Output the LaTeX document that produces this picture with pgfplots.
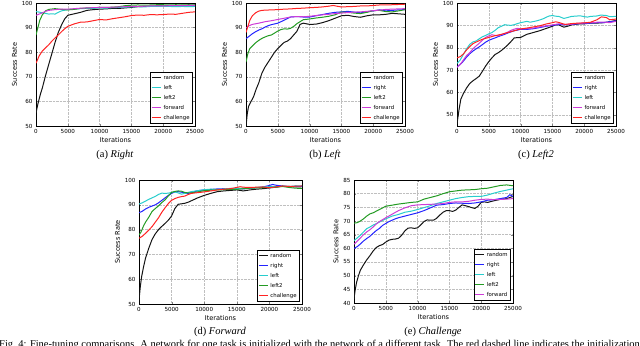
\documentclass[border=0pt]{standalone}
\usepackage{fontspec}
\setmainfont{Liberation Serif}
\newfontfamily\dv{DejaVu Sans}
\usepackage{pgfplots}
\pgfplotsset{compat=1.18}

\definecolor{mk}{RGB}{20,20,20}
\definecolor{mb}{RGB}{35,35,255}
\definecolor{mc}{RGB}{40,205,205}
\definecolor{mg}{RGB}{35,155,35}
\definecolor{mm}{RGB}{205,60,215}
\definecolor{mr}{RGB}{255,35,35}

\pgfplotsset{
  sub/.style={
    scale only axis, width=159bp, height=123bp,
    xmin=0, xmax=25000,
    xtick={0,5000,10000,15000,20000,25000},
    scaled x ticks=false,
    /pgf/number format/set thousands separator={},
    /pgf/number format/assume math mode=true,
    tick label style={font=\dv\fontsize{5.6}{6}\selectfont},
    label style={font=\dv\fontsize{6.6}{7}\selectfont},
    xlabel={Iterations}, ylabel={Success Rate},
    xlabel style={yshift=3bp}, ylabel style={yshift=-2bp},
    tick align=inside, major tick length=2bp,
    axis line style={line width=0.5bp},
    grid=major,
    grid style={densely dotted, gray!50, line width=0.45bp},
    every axis plot/.append style={line width=1bp, no marks},
    legend cell align=left,
    legend style={font=\dv\fontsize{5.4}{6}\selectfont, draw=black,
      at={(0.985,0.02)}, anchor=south east, inner sep=0.8pt, row sep=0.4bp},
  },
  k/.style={color=mk, legend image code/.code={\draw[mk, line width=1.2bp] (0bp,0bp) -- (9bp,0bp);}},
  b/.style={color=mb, legend image code/.code={\draw[mb, line width=1.2bp] (0bp,0bp) -- (9bp,0bp);}},
  c/.style={color=mc, legend image code/.code={\draw[mc, line width=1.2bp] (0bp,0bp) -- (9bp,0bp);}},
  g/.style={color=mg, legend image code/.code={\draw[mg, line width=1.2bp] (0bp,0bp) -- (9bp,0bp);}},
  m/.style={color=mm, legend image code/.code={\draw[mm, line width=1.2bp] (0bp,0bp) -- (9bp,0bp);}},
  r/.style={color=mr, legend image code/.code={\draw[mr, line width=1.2bp] (0bp,0bp) -- (9bp,0bp);}},
}

\begin{document}
\begin{tikzpicture}[x=1bp,y=1bp]
\useasboundingbox (0,0) rectangle (640,345);

% (a) Right
\begin{axis}[sub, at={(36bp,219bp)}, anchor=south west, ymin=50, ymax=100,
  ytick={50,60,70,80,90,100}]
\addplot[k] coordinates {(0,55.3)(300,59)(700,63)(1000,65.5)(1500,70.5)(2000,75)(2500,79.5)(3000,84)(3500,88)(4000,91)(4500,93.5)(5000,95)(6000,95.6)(7000,96.2)(8000,97)(9000,97.3)(10000,97.5)(11000,97.6)(12000,97.8)(13000,97.8)(14000,98)(15000,98.2)(16000,98.5)(17000,98.6)(18000,98.7)(19000,98.8)(20000,98.8)(21000,98.9)(22000,98.9)(23000,99)(24000,99)(25000,99.1)};
\addlegendentry{random}
\addplot[c] coordinates {(0,96.5)(500,96.3)(1000,96)(1500,95.8)(2000,95.5)(2500,95.6)(3000,95.5)(3500,96.2)(4000,96.8)(5000,97.3)(6000,97.5)(7000,97.7)(8000,97.8)(9000,97.8)(10000,98)(11000,97.9)(12000,98.1)(13000,98.2)(14000,98.3)(15000,98.4)(16000,98.5)(17000,98.4)(18000,98.6)(19000,98.6)(20000,98.7)(21000,98.6)(22000,98.5)(23000,98.6)(24000,98.5)(25000,98.6)};
\addlegendentry{left}
\addplot[g] coordinates {(0,87)(300,90)(600,93)(1000,95.2)(1500,96.8)(2000,97.4)(3000,97.7)(4000,97.4)(5000,97.2)(6000,97.4)(7000,97.8)(8000,98)(9000,98.1)(10000,98.2)(11000,98.2)(12000,98.3)(13000,98.5)(14000,98.9)(15000,99.1)(16000,99.2)(17000,99.1)(18000,99.2)(19000,99.3)(20000,99.3)(21000,99.2)(22000,99.3)(23000,99.2)(24000,99.3)(25000,99.2)};
\addlegendentry{left2}
\addplot[m] coordinates {(0,95)(500,95.5)(1000,96)(1500,96.6)(2000,97)(3000,97.3)(4000,97.5)(5000,97.5)(6000,97.7)(7000,97.9)(8000,98)(9000,98.1)(10000,98.2)(11000,98.2)(12000,98.3)(13000,98.4)(14000,98.5)(15000,98.6)(16000,98.6)(17000,98.7)(18000,98.8)(19000,98.8)(20000,98.8)(21000,98.9)(22000,98.9)(23000,98.9)(24000,99)(25000,99)};
\addlegendentry{forward}
\addplot[r] coordinates {(0,75.5)(500,78.5)(1000,80.5)(1500,81.8)(2000,83)(2500,84.5)(3000,85.8)(3500,87)(4000,88.3)(4500,89.5)(5000,90.5)(6000,91.5)(7000,92.2)(8000,92.3)(9000,92.8)(10000,93.3)(11000,93.1)(12000,93.6)(13000,94)(14000,94.4)(15000,94.9)(16000,95.1)(17000,95)(18000,95.3)(19000,95.2)(20000,95.3)(21000,95.5)(22000,95.4)(23000,95.8)(24000,96.2)(25000,96.4)};
\addlegendentry{challenge}
\end{axis}

% (b) Left
\begin{axis}[sub, at={(246bp,219bp)}, anchor=south west, ymin=50, ymax=100,
  ytick={50,60,70,80,90,100}]
\addplot[k] coordinates {(0,50)(200,55)(400,58)(800,60)(1200,62)(1600,65)(2000,67.5)(2500,71.5)(3000,74)(3500,76)(4000,78)(4500,80)(5000,81.5)(5500,82.8)(6000,84)(6500,84.5)(7000,85.5)(7500,87)(8000,88.5)(8500,91.3)(9000,91.8)(10000,91.3)(11000,91.4)(12000,92)(13000,92.8)(14000,93.8)(15000,94.8)(16000,95)(17000,94.5)(18000,94.2)(19000,94.8)(20000,95.2)(21000,95.2)(22000,95.4)(23000,95.8)(24000,95.6)(25000,95.4)};
\addlegendentry{random}
\addplot[b] coordinates {(0,85.5)(500,86.5)(1000,87.5)(1500,88.3)(2000,89)(2500,89.5)(3000,90.2)(3500,90.8)(4000,91.2)(4500,91.5)(5000,91.8)(6000,93)(7000,94.3)(8000,94.5)(9000,94.3)(10000,94.3)(11000,94.8)(12000,95.3)(13000,95.8)(14000,96.2)(15000,96.4)(16000,96.6)(17000,96.3)(18000,96)(19000,96.4)(20000,96.8)(21000,97.2)(22000,96.8)(23000,97)(24000,97.2)(25000,97.3)};
\addlegendentry{right}
\addplot[g] coordinates {(0,76)(300,79.5)(600,81.5)(1000,82.5)(1500,83.8)(2000,84.8)(2500,85.6)(3000,86.2)(3500,86.7)(4000,87)(4500,87.8)(5000,88.6)(5500,89.2)(6000,89.5)(6500,89.4)(7000,89.7)(7500,90.5)(8000,91.6)(8500,92.4)(9000,93.2)(10000,93.5)(11000,93.9)(12000,94.2)(13000,94.6)(14000,95.2)(15000,96.3)(16000,96.2)(17000,95.9)(18000,95.7)(19000,96.2)(20000,96.9)(21000,97)(22000,96.5)(23000,96.4)(24000,96.8)(25000,97.3)};
\addlegendentry{left2}
\addplot[m] coordinates {(0,89.8)(500,90.8)(1000,91.3)(2000,91.8)(3000,92.4)(4000,92.8)(5000,93.3)(6000,93.8)(7000,94.3)(8000,94.5)(9000,94.4)(10000,94.6)(11000,94.9)(12000,95.2)(13000,95.4)(14000,95.7)(15000,95.9)(16000,96.1)(17000,96.3)(18000,96.4)(19000,96.6)(20000,96.9)(21000,97.1)(22000,97.4)(23000,97.5)(24000,97.6)(25000,97.7)};
\addlegendentry{forward}
\addplot[r] coordinates {(0,88)(300,90.5)(600,93)(1000,94.8)(1500,96)(2000,96.7)(2500,97)(3000,97.1)(4000,97.2)(5000,97.3)(6000,97.5)(7000,97.6)(8000,97.8)(9000,97.9)(10000,98.1)(11000,98.2)(12000,98.4)(13000,98.7)(13700,99)(14500,98.6)(15000,98.4)(16000,98.5)(17000,98.6)(18000,98.8)(19000,98.8)(20000,99)(21000,99.2)(22000,99.2)(23000,99.3)(24000,99.4)(25000,99.5)};
\addlegendentry{challenge}
\end{axis}

% (c) Left2
\begin{axis}[sub, at={(457bp,219bp)}, anchor=south west, ymin=45, ymax=100,
  ytick={50,60,70,80,90,100}]
\addplot[k] coordinates {(0,46)(300,52)(600,57)(1000,59.5)(1500,62)(2000,64)(2500,65.2)(3000,66.2)(3500,67.3)(4000,69.5)(4500,71.8)(5000,73.8)(5500,75.5)(6000,77)(6500,77.8)(7000,78.8)(7500,80)(8000,81.3)(8500,82.8)(9000,84.4)(10000,84.6)(10500,85.3)(11000,86)(12000,86.8)(13000,87.6)(14000,88.6)(15000,89.6)(15500,90.3)(16000,90.2)(16800,89.2)(17500,89.7)(18000,90.2)(19000,90.6)(20000,90.7)(21000,91)(22000,91)(23000,91.2)(24000,91.6)(25000,92.2)};
\addlegendentry{random}
\addplot[b] coordinates {(0,71.5)(500,72.5)(1000,74)(1500,75.8)(2000,77.3)(2500,78.5)(3000,79.5)(3500,80.4)(4000,81.4)(4500,82.5)(5000,83.3)(5500,83.9)(6000,84.4)(6500,85)(7000,85.5)(7500,86)(8000,86.6)(9000,87.6)(10000,88.2)(11000,88.2)(12000,88.5)(13000,89)(14000,89.6)(15000,90)(16000,90.4)(17000,90.2)(18000,90.4)(19000,90.7)(20000,90.8)(21000,91)(22000,91.2)(23000,91.2)(24000,91.6)(25000,92)};
\addlegendentry{right}
\addplot[c] coordinates {(0,73)(500,74.5)(1000,77)(1500,79.5)(2000,81.5)(2500,82.6)(3000,83)(3500,84)(4000,84.9)(4500,85.5)(5000,86.2)(5500,86.8)(6000,87.8)(6500,89)(7000,89.6)(7500,90.3)(8000,90.1)(8500,90)(9000,90.3)(9500,90.8)(10000,91.2)(10500,91.5)(11000,91.8)(11500,91.4)(12000,91.7)(12500,92)(13000,92.4)(13500,92.9)(14000,93.6)(14500,94.2)(15000,94.4)(15500,94.1)(16000,94)(16800,93.1)(17500,93.6)(18000,94)(19000,94.2)(19500,94.2)(20000,93.9)(20500,93.7)(21000,94)(22000,94.2)(22600,94.6)(23500,94.4)(24000,93.9)(25000,94)};
\addlegendentry{left}
\addplot[m] coordinates {(0,71.2)(500,72.5)(1000,74.5)(1500,76.5)(2000,77.8)(2500,79.5)(3000,80.8)(3500,82)(4000,83.4)(4500,84.6)(5000,85.3)(5500,85.8)(6000,85.5)(6500,85.3)(7000,85.9)(7500,86.4)(8000,87)(8500,87.8)(9000,88.3)(9500,88.7)(10000,88.4)(11000,88.5)(12000,88.8)(13000,89.3)(14000,89.8)(15000,90.2)(16000,90.7)(17000,90.4)(18000,90.5)(19000,90.9)(20000,91.1)(21000,91.2)(22000,91.4)(23000,91.5)(24000,91.2)(25000,91.8)};
\addlegendentry{forward}
\addplot[r] coordinates {(0,75.5)(500,76)(1000,77.2)(1500,79)(2000,80.5)(2500,81.8)(3000,82.5)(3500,83.2)(4000,83.8)(4500,84.2)(5000,84.6)(5500,85)(6000,85.4)(7000,86)(8000,86.8)(9000,87.6)(10000,88.4)(11000,88.8)(12000,89.3)(13000,89.8)(14000,90.6)(15000,91.2)(15500,91.6)(16000,91.3)(17000,90.4)(18000,90.8)(19000,91)(20000,91.1)(21000,91.4)(22000,92.5)(22700,93.8)(23500,93.5)(24000,92.5)(25000,92.8)};
\addlegendentry{challenge}
\end{axis}

% (d) Forward
\begin{axis}[sub, at={(139bp,41bp)}, anchor=south west, ymin=50, ymax=100,
  ytick={50,60,70,80,90,100}, width=163bp, height=124bp]
\addplot[k] coordinates {(0,51.5)(200,57)(400,61)(700,65)(1000,68.5)(1500,72.5)(2000,76)(2500,78.3)(3000,80)(3500,81.3)(4000,82.5)(4500,83.8)(5000,85.5)(5500,88.5)(6000,90.2)(6500,90.4)(7000,90.6)(7500,91)(8000,91.6)(9000,92.8)(10000,93.8)(11000,94.6)(12000,95.3)(13000,95.6)(14000,95.8)(15000,96)(16000,95.6)(17000,96)(18000,96.3)(19000,96.5)(20000,96.8)(21000,97.1)(22000,97.5)(23000,97.4)(24000,97.2)(25000,97.3)};
\addlegendentry{random}
\addplot[b] coordinates {(0,86.8)(500,87.4)(1000,88.3)(1500,89)(2000,89.5)(2500,90)(3000,90.8)(3500,91.8)(4000,92.8)(4500,93.8)(5000,94.6)(5500,95.2)(6000,95.3)(6500,95.1)(7000,94.8)(7500,94.6)(8000,94.8)(9000,95.7)(10000,96)(11000,96.2)(12000,96.4)(13000,96.5)(14000,96.3)(15000,96.6)(16000,96.4)(17000,96.7)(18000,96.9)(19000,97.2)(20000,97.8)(20500,98.2)(21000,97.9)(22000,97.6)(23000,97.3)(24000,97.5)(25000,97.4)};
\addlegendentry{right}
\addplot[c] coordinates {(0,90.3)(500,90.8)(1000,91.5)(1500,92.2)(2000,92.8)(2500,93.4)(3000,94.2)(3500,94.7)(4000,94.6)(4500,94.7)(5000,95)(5500,95.2)(6000,94.8)(6500,94.3)(7000,94.6)(7500,95)(8000,95.3)(9000,95.7)(10000,96.1)(11000,96.3)(12000,96.2)(13000,96.4)(14000,96.6)(15000,96.6)(16000,96.7)(17000,96.9)(18000,97)(19000,97.2)(20000,97.3)(21000,97.3)(22000,97.5)(23000,97.4)(24000,97.6)(25000,97.6)};
\addlegendentry{left}
\addplot[g] coordinates {(0,77.8)(300,79)(700,81.5)(1000,83)(1500,85)(2000,87.3)(2500,88.5)(3000,89.6)(3500,90.9)(4000,92)(4500,93.6)(5000,95)(5500,95.4)(6000,95.6)(6500,95.5)(7000,95)(7500,94.8)(8000,94.8)(9000,95.2)(10000,95.7)(11000,95.9)(12000,96)(13000,96.1)(14000,96.2)(15000,96.2)(16000,96.5)(17000,96.7)(18000,96.8)(19000,96.9)(20000,97)(21000,97.1)(22000,97.4)(23000,97)(24000,96.7)(25000,96.6)};
\addlegendentry{left2}
\addplot[r] coordinates {(0,76.5)(500,77.3)(1000,78.5)(1500,79.8)(2000,81.2)(2500,83)(3000,84.8)(3500,87)(4000,88.8)(4500,90.5)(5000,91.8)(5500,92.5)(6000,93)(6500,93.3)(7000,93.5)(7500,94.1)(8000,94.6)(9000,94.9)(10000,95.2)(11000,95.6)(12000,96)(13000,96.3)(14000,96.5)(15000,97)(15500,97.3)(16000,97.1)(17000,97)(18000,97.1)(19000,97.2)(20000,96.9)(21000,97.2)(22000,97.6)(23000,97.4)(24000,97.5)(25000,97.6)};
\addlegendentry{challenge}
\end{axis}

% (e) Challenge
\begin{axis}[sub, at={(354bp,42bp)}, anchor=south west, ymin=40, ymax=85,
  ytick={40,45,50,55,60,65,70,75,80,85}]
\addplot[k] coordinates {(0,41.5)(200,45)(400,47.5)(700,50)(1000,52)(1500,54)(2000,55.8)(2500,57.3)(3000,59)(3500,60.3)(4000,61)(4500,61.4)(5000,62.3)(5500,63)(6000,63.3)(6500,63.4)(7000,63.7)(7500,64.8)(8000,66.4)(8500,67.4)(9000,67.5)(9500,67.3)(10000,67.5)(10500,68.6)(11000,69.8)(11500,70.4)(12000,70.3)(12500,70.3)(13000,71)(13500,72.2)(14000,73.2)(14500,73.8)(15000,73.8)(15500,73.5)(16000,74)(16500,75)(17000,75.9)(17500,75.6)(18000,75.3)(18500,74.9)(19000,74.6)(19500,75.4)(20000,76.8)(20500,77)(21000,76.8)(22000,77.4)(23000,77.9)(24000,78.2)(25000,79)};
\addlegendentry{random}
\addplot[b] coordinates {(0,60)(500,60.6)(1000,61.6)(1500,62.7)(2000,63.6)(2500,64.4)(3000,65.5)(3500,66.5)(4000,67.3)(4500,68.4)(5000,69.1)(5500,69.8)(6000,70.3)(6500,70.8)(7000,71.2)(8000,71.8)(9000,72.4)(10000,73)(11000,73.8)(12000,74.8)(13000,75.8)(14000,76)(15000,76.4)(16000,76.6)(17000,76.5)(18000,76.4)(19000,76.6)(20000,77)(21000,77.6)(22000,77.8)(23000,78.2)(24000,78.6)(24500,79.6)(25000,79)};
\addlegendentry{right}
\addplot[c] coordinates {(0,62.8)(500,63.8)(1000,64.8)(1500,66)(2000,67.2)(2500,67.8)(3000,68.5)(4000,69.6)(5000,70.8)(6000,71.8)(7000,72.4)(8000,73.2)(9000,73.6)(10000,74.2)(11000,74.9)(12000,75.6)(13000,76.4)(14000,77)(15000,77.6)(16000,78.2)(17000,78.6)(18000,78.9)(19000,79)(20000,79)(21000,79.5)(22000,80.2)(23000,80.8)(24000,81.3)(25000,81.8)};
\addlegendentry{left}
\addplot[g] coordinates {(0,69.2)(500,69.4)(1000,70)(1500,70.8)(2000,71.8)(2500,72.6)(3000,73)(3500,73.6)(4000,74.2)(4500,74.8)(5000,75.4)(6000,75.8)(7000,76.2)(8000,76.5)(9000,76.8)(10000,77)(11000,78)(12000,78.6)(13000,79.2)(14000,80)(15000,80.7)(16000,81)(17000,81.3)(18000,81.4)(19000,81.5)(20000,81.8)(21000,82)(22000,82.5)(23000,83)(24000,83.2)(25000,82.9)};
\addlegendentry{left2}
\addplot[m] coordinates {(0,61.5)(500,62.6)(1000,63.8)(1500,65)(2000,66)(2500,66.8)(3000,67.8)(3500,68.9)(4000,69.8)(4500,70.5)(5000,71.2)(6000,72.5)(7000,73.8)(8000,74.8)(9000,75.6)(10000,75.9)(11000,76)(12000,76.1)(13000,76.2)(14000,76.4)(15000,76.8)(16000,77)(17000,77)(18000,77.2)(19000,77.6)(20000,77.9)(21000,78)(22000,77.8)(23000,77.9)(24000,78)(25000,78.2)};
\addlegendentry{forward}
\end{axis}

% captions
\begin{scope}[every node/.style={font=\fontsize{10.5}{12}\selectfont}]
\node at (115,190) {(a) \textit{Right}};
\node at (325,190) {(b) \textit{Left}};
\node at (536,190) {(c) \textit{Left2}};
\node at (220,13) {(d) \textit{Forward}};
\node at (433,13) {(e) \textit{Challenge}};
\node[anchor=base west, inner sep=0pt] at (-1,-2.5) {Fig.\ 4: Fine-tuning comparisons. A network for one task is initialized with the network of a different task. The red dashed line indicates the initialization};
\end{scope}
\end{tikzpicture}
\end{document}
